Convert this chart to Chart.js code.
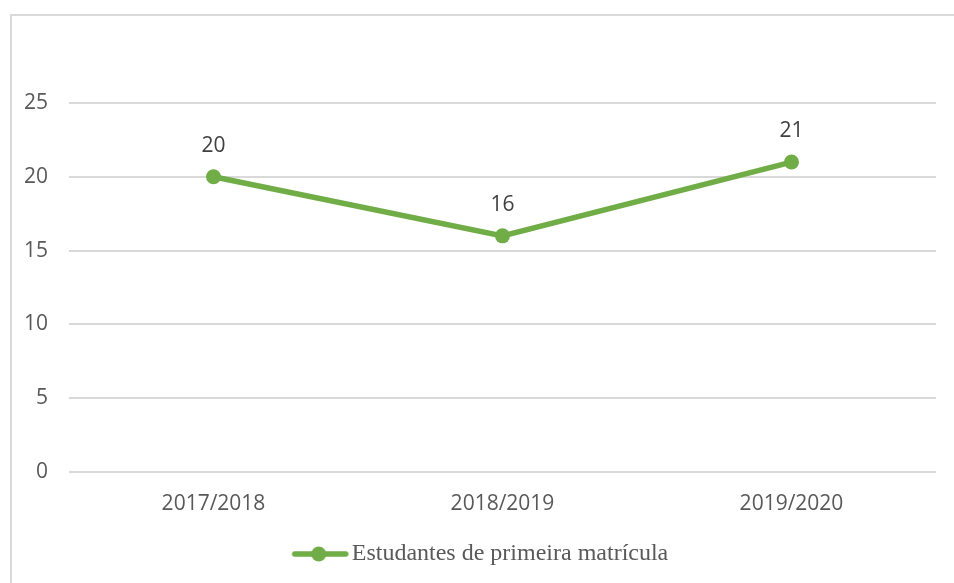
<!DOCTYPE html>
<html><head><meta charset="utf-8">
<script src="https://cdn.jsdelivr.net/npm/chart.js@4/dist/chart.umd.min.js"></script>
<style>html,body{margin:0;padding:0;background:#fff}#wrap{position:relative;width:954px;height:583px}</style>
</head><body><div id="wrap"><canvas id="c" width="954" height="583"></canvas></div>
<script>
const categories = ["2017/2018", "2018/2019", "2019/2020"];
const seriesName = "Estudantes de primeira matrícula";
const values = [20, 16, 21];
const yTicks = [0, 5, 10, 15, 20, 25];

const green = '#70ad47';

function legendIcon(){
  const c = document.createElement('canvas');
  c.width = 92; c.height = 16;
  const g = c.getContext('2d');
  g.strokeStyle = green; g.lineWidth = 5.5; g.lineCap = 'round';
  g.beginPath(); g.moveTo(37, 8); g.lineTo(88, 8); g.stroke();
  g.fillStyle = green; g.beginPath(); g.arc(61, 8, 7.5, 0, Math.PI*2); g.fill();
  return c;
}

const framePlugin = {
  id: 'frame',
  beforeDraw(chart){
    const ctx = chart.ctx;
    ctx.save();
    ctx.fillStyle = '#fff';
    ctx.fillRect(0,0,chart.width,chart.height);
    ctx.strokeStyle = '#d9d9d9';
    ctx.lineWidth = 2;
    ctx.strokeRect(11, 15, chart.width + 20, chart.height + 20);
    ctx.restore();
  }
};

const labelPlugin = {
  id: 'valueLabels',
  afterDatasetsDraw(chart){
    const ctx = chart.ctx;
    const meta = chart.getDatasetMeta(0);
    ctx.save();
    ctx.font = '21px "Open Sans", sans-serif';
    ctx.fillStyle = '#404040';
    ctx.textAlign = 'center';
    ctx.textBaseline = 'middle';
    meta.data.forEach((pt, i) => {
      ctx.fillText(String(chart.data.datasets[0].data[i]), pt.x, pt.y - 31);
    });
    ctx.restore();
  }
};

new Chart(document.getElementById('c'), {
  type: 'line',
  data: {
    labels: categories,
    datasets: [{
      label: seriesName,
      data: values,
      borderColor: green,
      backgroundColor: green,
      borderWidth: 5.5,
      pointRadius: 7.5,
      pointHoverRadius: 7.5,
      pointBackgroundColor: green,
      pointBorderColor: green,
      pointBorderWidth: 0,
      tension: 0,
      pointStyle: 'circle'
    }]
  },
  options: {
    responsive: false,
    animation: false,
    layout: { padding: { left: 0, right: 18, top: 103, bottom: 7 } },
    scales: {
      x: {
        offset: true,
        grid: { display: false, drawTicks: false },
        border: { display: false },
        ticks: { color: '#595959', font: { family: '"Open Sans", sans-serif', size: 21 }, padding: 19 },
        afterFit(axis){ axis.height = 52; }
      },
      y: {
        min: 0, max: 25,
        afterBuildTicks(axis){ axis.ticks = yTicks.map(v => ({ value: v })); },
        grid: { color: '#d9d9d9', lineWidth: 2, drawTicks: false },
        border: { display: false },
        ticks: { color: '#595959', font: { family: '"Open Sans", sans-serif', size: 21 }, padding: 21 },
        afterFit(axis){ axis.width = 69; }
      }
    },
    plugins: {
      legend: {
        position: 'bottom',
        labels: {
          usePointStyle: true,
          pointStyle: legendIcon(),
          pointStyleWidth: 72,
          boxHeight: 16,
          color: '#595959',
          font: { family: '"Liberation Serif", serif', size: 24 },
          padding: 18
        }
      },
      tooltip: { enabled: false }
    }
  },
  plugins: [framePlugin, labelPlugin]
});
</script>
</body></html>
